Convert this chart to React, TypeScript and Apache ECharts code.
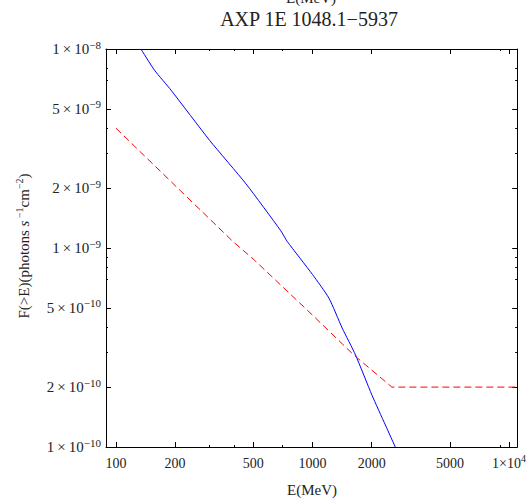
import React, { useEffect, useRef } from 'react';
import * as echarts from 'echarts';

// Blue solid curve (E in MeV, F(>E) in photons s^-1 cm^-2)
const blueE = [134, 157, 191, 300, 459, 690, 743, 1000, 1212, 1416, 1655, 2008, 2348, 2637];
const blueF = [1.0e-8, 7.83e-9, 6.2e-9, 3.47e-9, 2.1e-9, 1.22e-9, 1.08e-9, 7.36e-10, 5.6e-10, 3.96e-10, 2.9e-10, 1.82e-10, 1.29e-10, 1.0e-10];

// Red dashed curve
const redE = [100, 200, 393, 506, 1000, 1622, 2535, 11000];
const redF = [4.0e-9, 2.06e-9, 1.08e-9, 8.7e-10, 4.6e-10, 2.9e-10, 2.0e-10, 2.0e-10];

// Ticks
const xMajor = [100, 200, 500, 1000, 2000, 5000, 10000];
const xMinor = [300, 400, 700, 9000];
const yMajor = [1e-10, 2e-10, 5e-10, 1e-9, 2e-9, 5e-9, 1e-8];
const yMinor = [3e-10, 4e-10, 7e-10, 8e-10, 9e-10, 3e-9, 4e-9, 7e-9, 8e-9];

const titleText = 'AXP 1E 1048.1\u22125937';
const xName = 'E(MeV)';

const FONT = '"Liberation Serif", "DejaVu Serif", serif';
const TXT = '#222';

const X_MIN = 89;
const X_MAX = 11000;
const Y_MIN = 1e-10;
const Y_MAX = 1e-8;

function sci(v: number, sp: string): string {
  const exp = Math.floor(Math.log10(v) + 1e-9);
  const m = Math.round(v / Math.pow(10, exp));
  const e = exp < 0 ? '\u2212' + (-exp) : String(exp);
  return `{b|${m}${sp}\u00d7${sp}10}{s|${e}}`;
}

const richX = {
  b: { fontSize: 14, fontFamily: FONT, color: TXT, lineHeight: 20 },
  s: { fontSize: 10, fontFamily: FONT, color: TXT, lineHeight: 10, verticalAlign: 'top' },
};

const richY = {
  b: { fontSize: 15, fontFamily: FONT, color: TXT, lineHeight: 20 },
  s: { fontSize: 11, fontFamily: FONT, color: TXT, lineHeight: 11, verticalAlign: 'top' },
};

function xFmt(v: number): string {
  if (v >= 10000) return sci(v, '');
  return `{b|${Math.round(v)}}`;
}

function yFmt(v: number): string {
  return sci(v, '\u2009');
}

const lineStyle = { color: '#000', width: 1 };

function mkX(position: string, vals: number[], len: number, labels: boolean, showLine: boolean) {
  return {
    type: 'log',
    logBase: 10,
    min: X_MIN,
    max: X_MAX,
    position,
    axisLine: { show: showLine, lineStyle },
    axisTick: { show: true, inside: true, length: len, customValues: vals, lineStyle },
    axisLabel: labels
      ? { show: true, customValues: vals, formatter: xFmt, margin: 6, rich: richX, color: TXT, fontFamily: FONT, fontSize: 14 }
      : { show: false },
    splitLine: { show: false },
    minorTick: { show: false },
  };
}

function mkY(position: string, vals: number[], len: number, labels: boolean, showLine: boolean) {
  return {
    type: 'log',
    logBase: 10,
    min: Y_MIN,
    max: Y_MAX,
    position,
    axisLine: { show: showLine, lineStyle },
    axisTick: { show: true, inside: true, length: len, customValues: vals, lineStyle },
    axisLabel: labels
      ? { show: true, customValues: vals, formatter: yFmt, margin: 5, rich: richY, color: TXT, fontFamily: FONT, fontSize: 15 }
      : { show: false },
    splitLine: { show: false },
    minorTick: { show: false },
  };
}

export default function App() {
  const ref = useRef<HTMLDivElement>(null);

  useEffect(() => {
    if (!ref.current) return;
    const chart = echarts.init(ref.current, undefined, { renderer: 'svg' });

    const blueData = blueE.map((e, i) => [e, blueF[i]]);
    const redData = redE.map((e, i) => [e, redF[i]]);

    chart.setOption({
      animation: false,
      backgroundColor: '#fff',
      grid: { left: 106, right: 10, top: 49, bottom: 51, containLabel: false },
      xAxis: [
        mkX('bottom', xMajor, 5, true, true),
        mkX('bottom', xMinor, 2, false, false),
        mkX('top', xMajor, 5, false, true),
        mkX('top', xMinor, 2, false, false),
      ],
      yAxis: [
        mkY('left', yMajor, 5, true, true),
        mkY('left', yMinor, 2, false, false),
        mkY('right', yMajor, 5, false, true),
        mkY('right', yMinor, 2, false, false),
      ],
      series: [
        {
          type: 'line',
          xAxisIndex: 0,
          yAxisIndex: 0,
          data: blueData,
          showSymbol: false,
          symbol: 'none',
          clip: true,
          smooth: 0.2,
          lineStyle: { color: '#0000ff', width: 1 },
        },
        {
          type: 'line',
          xAxisIndex: 0,
          yAxisIndex: 0,
          data: redData,
          showSymbol: false,
          symbol: 'none',
          clip: true,
          lineStyle: { color: '#ff0000', width: 1, type: [7, 4] },
        },
      ],
      graphic: [
        {
          type: 'text',
          x: 311,
          y: 5,
          style: { text: xName, font: `15px ${FONT}`, fill: TXT, align: 'center', verticalAlign: 'bottom' },
        },
        {
          type: 'text',
          x: 309,
          y: 19,
          style: { text: titleText, font: `20px ${FONT}`, fill: TXT, align: 'center', verticalAlign: 'middle' },
        },
        {
          type: 'text',
          x: 312,
          y: 490,
          style: { text: xName, font: `15px ${FONT}`, fill: TXT, align: 'center', verticalAlign: 'middle' },
        },
        {
          type: 'text',
          x: 24,
          y: 246,
          rotation: Math.PI / 2,
          style: {
            text: '{n|F(>E)(photons }{i|s}{s| \u22121}{n|cm}{s|\u22122}{n|)}',
            align: 'center',
            verticalAlign: 'middle',
            rich: {
              n: { fontSize: 15, fontFamily: FONT, fill: TXT, lineHeight: 20 },
              i: { fontSize: 15, fontFamily: FONT, fill: TXT, fontStyle: 'italic', lineHeight: 20 },
              s: { fontSize: 10, fontFamily: FONT, fill: TXT, lineHeight: 10, verticalAlign: 'top' },
            },
          },
        },
      ],
    });

    return () => chart.dispose();
  }, []);

  return (
    <div
      ref={ref}
      style={{ position: 'absolute', left: 0, top: 0, width: 529, height: 498, background: '#fff' }}
    />
  );
}
